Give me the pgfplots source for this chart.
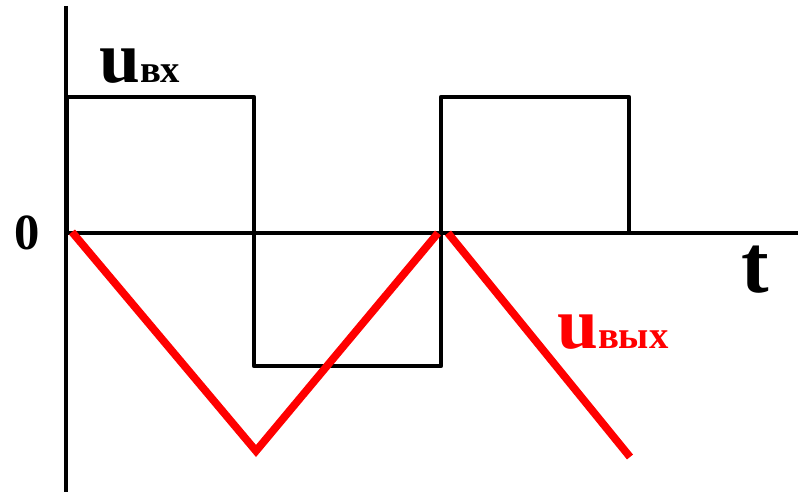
\documentclass[border=0pt]{standalone}
\usepackage{pgfplots}
\pgfplotsset{compat=1.18}
\usepackage{fontspec}
\setmainfont{Liberation Serif}
\begin{document}
\begin{tikzpicture}
\begin{axis}[scale only axis, width=602.25pt, height=371.25pt,
  xmin=0, xmax=803, ymin=0, ymax=495, y dir=reverse,
  axis lines=none, clip=false]
% axes
\addplot[black, line width=3.3pt] coordinates {(66,6) (66,492)};
\addplot[black, line width=3.3pt] coordinates {(66,233) (798,233)};
% input square wave
\addplot[black, line width=3.3pt, line join=round] coordinates {(67,233)(67,97)(254,97)(254,366)(441,366)(441,97)(629,97)(629,233)};
% output triangle wave
\addplot[red, line width=5.8pt] coordinates {(72,232)(256,451)(438,233)};
\addplot[red, line width=5.8pt] coordinates {(448,233)(630,457)};
% labels
\node[anchor=base west, inner sep=0pt, font=\bfseries\fontsize{55}{55}\selectfont] at (axis cs:99,83) {u{\fontsize{29}{29}\selectfont вх}};
\node[anchor=base west, inner sep=0pt, font=\bfseries\fontsize{38}{38}\selectfont] at (axis cs:14,250) {0};
\node[anchor=base west, inner sep=0pt, font=\bfseries\fontsize{62}{62}\selectfont] at (axis cs:741,293) {t};
\node[anchor=base west, inner sep=0pt, text=red, font=\bfseries\fontsize{55}{55}\selectfont] at (axis cs:557,348) {u{\fontsize{29}{29}\selectfont вых}};
\end{axis}
\path (current axis.south west) rectangle (current axis.north east);
\end{tikzpicture}
\end{document}
